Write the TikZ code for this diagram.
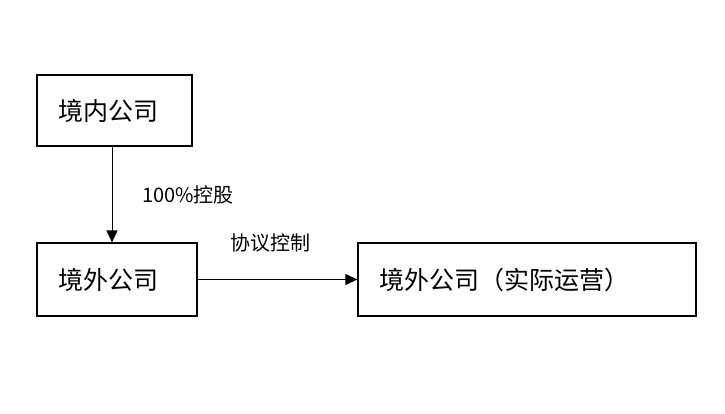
\documentclass[tikz,border=0pt]{standalone}
\usepackage{fontspec}
\newfontfamily\cjk{Noto Sans CJK SC}
\usetikzlibrary{positioning,arrows.meta}
\begin{document}
\begin{tikzpicture}[x=1pt,y=-1pt,
    box/.style={rectangle, draw=black, line width=1.3pt, inner xsep=21pt, inner ysep=0pt, align=left, font=\cjk\fontsize{25}{28}\selectfont},
    lbl/.style={font=\cjk\fontsize{20}{22}\selectfont},
    arrow/.style={-{Triangle[length=12pt,width=11pt]}, line width=1pt}
]
    \useasboundingbox (0,0) rectangle (725,414);
    % Boxes
    \node[box, text width=113pt, minimum height=71pt] (inner) at (114.5,110.5) {境内公司};
    \node[box, text width=118pt, minimum height=73pt] (outer) at (117,279.5) {境外公司};
    \node[box, text width=296pt, minimum height=73pt] (oper) at (527,279.5) {境外公司（实际运营）};

    % Labels
    \node[lbl] (holdlbl) at (188,195) {100\%控股};
    \node[lbl] (ctrllbl) at (270,243) {协议控制};

    % Arrows
    \draw[arrow] (inner.south -| 112,0) -- (outer.north -| 112,0);
    \draw[arrow] (outer.east) -- (oper.west);
\end{tikzpicture}
\end{document}
